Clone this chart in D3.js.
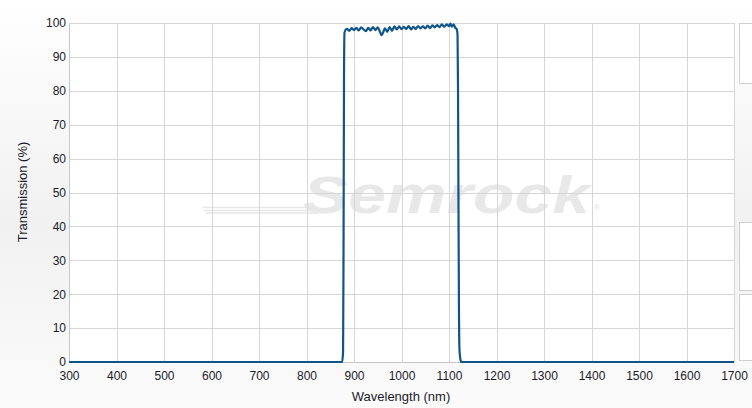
<!DOCTYPE html>
<html>
<head>
<meta charset="utf-8">
<script src="https://cdn.jsdelivr.net/npm/d3@7"></script>
<style>
html,body{margin:0;padding:0;overflow:hidden;}
svg{display:block;font-family:"Liberation Sans",Arial,sans-serif;}
</style>
</head>
<body>
<svg id="chart" width="752" height="408"></svg>
<script>
// ---- data ----
const xTicks = [300,400,500,600,700,800,900,1000,1100,1200,1300,1400,1500,1600,1700];
const yTicks = [0,10,20,30,40,50,60,70,80,90,100];
const wavelength = [300,875,877,878,879,880,885,890,895,900,905,910,915,920,925,930,935,940,945,950,955,958,961,965,970,975,980,985,990,995,1000,1005,1010,1015,1020,1025,1030,1035,1040,1045,1050,1055,1060,1065,1070,1075,1080,1085,1090,1095,1100,1103,1106,1110,1113,1116,1118,1119,1120,1121,1122,1124,1126,1700];
const transmission = [0,0,3,35,85,97.2,98.3,97.7,98.5,97.9,98.6,97.8,98.7,98.1,97.6,98.6,97.8,98.8,97.9,98.7,97.3,96.4,97.1,98.4,97.4,98.8,97.7,99.0,98.1,99.0,98.2,98.9,98.2,99.1,98.1,98.9,98.2,99.1,98.4,99.0,98.4,99.2,98.5,99.3,98.7,99.4,98.8,99.6,98.9,99.6,99.1,99.8,98.9,99.6,98.6,98.3,96.5,80,45,15,4,0.8,0,0];
const watermarkText = "Semrock";

const svg = d3.select("#chart");
const W = 752, H = 408;
const m = {left:69, right:734, top:23, bottom:362};

const defs = svg.append("defs");
const bg = defs.append("linearGradient").attr("id","bg").attr("x1",0).attr("y1",0).attr("x2",0).attr("y2",1);
bg.append("stop").attr("offset","0%").attr("stop-color","#ffffff");
bg.append("stop").attr("offset","55%").attr("stop-color","#f1f1f1");
bg.append("stop").attr("offset","100%").attr("stop-color","#fbfbfb");
const rb = defs.append("linearGradient").attr("id","rainbow").attr("x1",0).attr("y1",0).attr("x2",1).attr("y2",0);
[["0%","#e6e6f8"],["25%","#e2eefa"],["45%","#e6f6ea"],["65%","#f8f6de"],["85%","#fae6e0"],["100%","#fae8ea"]].forEach(s=>rb.append("stop").attr("offset",s[0]).attr("stop-color",s[1]));

svg.append("rect").attr("width",W).attr("height",H).attr("fill","url(#bg)");

// right side panels
[[23,83],[222,290],[294,360]].forEach(p=>{
  svg.append("rect").attr("x",739.5).attr("y",p[0]+0.5).attr("width",20).attr("height",p[1]-p[0])
    .attr("fill","#ffffff").attr("stroke","#cfcfcf");
});

const x = d3.scaleLinear().domain([300,1700]).range([m.left,m.right]);
const y = d3.scaleLinear().domain([0,100]).range([m.bottom,m.top]);

svg.append("rect").attr("x",m.left).attr("y",m.top).attr("width",m.right-m.left).attr("height",m.bottom-m.top).attr("fill","#ffffff");

// watermark
const wm = svg.append("g");
[207.5,210.5,213].forEach((yy,i)=>{
  wm.append("line").attr("x1",202+i*2).attr("x2",318).attr("y1",yy).attr("y2",yy).attr("stroke","#e6e6e6").attr("stroke-width",1.6);
});
[173.5,176.5].forEach(yy=>{
  wm.append("line").attr("x1",343).attr("x2",563).attr("y1",yy).attr("y2",yy).attr("stroke","url(#rainbow)").attr("stroke-width",2);
});
wm.append("text").attr("x",303).attr("y",213).attr("font-size",51).attr("font-weight","bold").attr("font-style","italic")
  .attr("textLength",287).attr("lengthAdjust","spacingAndGlyphs")
  .attr("fill","#e8e8e8").text(watermarkText);
wm.append("text").attr("x",594).attr("y",210).attr("font-size",8).attr("fill","#e4e4e4").text("®");

// grid
const grid = svg.append("g").attr("stroke","#d6d6d6").attr("stroke-width",1);
xTicks.forEach(t=>{
  grid.append("line").attr("x1",Math.round(x(t))+0.5).attr("x2",Math.round(x(t))+0.5).attr("y1",m.top).attr("y2",m.bottom);
});
yTicks.forEach(t=>{
  grid.append("line").attr("x1",m.left).attr("x2",m.right).attr("y1",Math.round(y(t))+0.5).attr("y2",Math.round(y(t))+0.5);
});

// axes via d3
const xAxis = svg.append("g").attr("transform",`translate(0,${m.bottom})`)
  .call(d3.axisBottom(x).tickValues(xTicks).tickSize(0).tickPadding(9).tickFormat(d3.format("d")));
xAxis.select(".domain").attr("stroke","#c8c8c8");
const yAxis = svg.append("g").attr("transform",`translate(${m.left},0)`)
  .call(d3.axisLeft(y).tickValues(yTicks).tickSize(0).tickPadding(3).tickFormat(d3.format("d")));
yAxis.select(".domain").attr("stroke","#c8c8c8");
svg.selectAll(".tick text").attr("font-size",12).attr("fill","#1a1a2a").attr("font-family","Liberation Sans, Arial, sans-serif");

// line
const data = wavelength.map((w,i)=>({w, t:transmission[i]}));
svg.append("path").datum(data)
  .attr("d", d3.line().x(d=>x(d.w)).y(d=>y(d.t)).curve(d3.curveMonotoneX))
  .attr("fill","none").attr("stroke","#10558a").attr("stroke-width",2.2).attr("stroke-linejoin","round");

// titles
svg.append("text").attr("x",401).attr("y",401).attr("text-anchor","middle")
  .attr("font-size",13).attr("fill","#1a1a2a").text("Wavelength (nm)");
svg.append("text").attr("transform",`translate(27,192) rotate(-90)`).attr("text-anchor","middle")
  .attr("font-size",13).attr("fill","#1a1a2a").text("Transmission (%)");
</script>
</body>
</html>
